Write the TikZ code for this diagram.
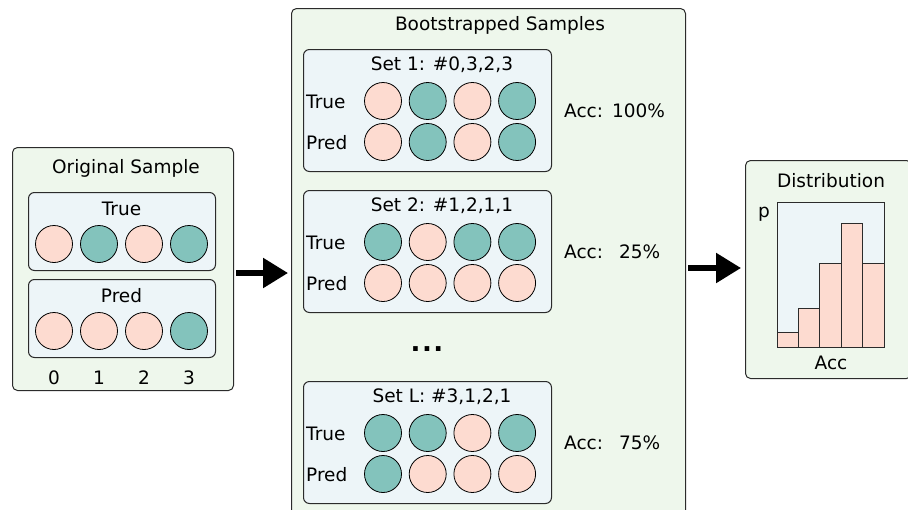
\documentclass[tikz,border=0pt]{standalone}
\usepackage{fontspec}
\setmainfont{DejaVu Sans}
\usetikzlibrary{arrows.meta,calc}

\definecolor{panelgreen}{HTML}{EEF7EC}
\definecolor{panelblue}{HTML}{EDF5F8}
\definecolor{pinkball}{HTML}{FDDBD0}
\definecolor{tealball}{HTML}{83C3BC}
\definecolor{edgegray}{HTML}{2B2B2B}

\tikzset{
  outerbox/.style={draw=edgegray, fill=panelgreen, rounded corners=5, line width=1},
  innerbox/.style={draw=edgegray, fill=panelblue, rounded corners=6, line width=1},
  ball/.style={circle, draw=black, line width=0.8, minimum size=37, inner sep=0},
  P/.style={ball, fill=pinkball},
  T/.style={ball, fill=tealball},
  lbl/.style={font=\fontsize{18.5}{21}\selectfont, inner sep=0},
  bigarrow/.style={line width=5.5, -{Triangle[length=25, width=29]}},
}

% One bootstrapped set: #1 name, #2 top y, #3 title, #4/#5 true/pred styles, #6 accuracy text
\newcommand{\bootset}[6]{%
  \node[innerbox, minimum width=248, minimum height=122, anchor=north west] (#1) at (303,#2) {};
  \node[lbl] (#1title) at (442,#2+16) {#3};
  \node[lbl, anchor=west] (#1tl) at (306,#2+53) {True};
  \node[lbl, anchor=west] (#1pl) at (306,#2+94) {Pred};
  \foreach \s [count=\i] in {#4} {
    \node[\s] (#1t\i) at (383+44.7*\i-44.7,#2+52) {};
  }
  \foreach \s [count=\i] in {#5} {
    \node[\s] (#1p\i) at (383+44.7*\i-44.7,#2+93) {};
  }
  \node[lbl, anchor=west] (#1acc) at (564,#2+62) {#6};
}

\begin{document}
\begin{tikzpicture}[x=1pt, y=-1pt]
\useasboundingbox (0,0) rectangle (908,509);
\begin{scope}
\clip (0,0) rectangle (908,509);

% Original sample
\node[outerbox, minimum width=221, minimum height=243, anchor=north west] (orig) at (12,147) {};
\node[lbl] (origtitle) at (126,168) {Original Sample};
\node[innerbox, minimum width=187, minimum height=78, anchor=north west] (otrue) at (28,192) {};
\node[lbl] (otruel) at (121.5,209) {True};
\node[innerbox, minimum width=187, minimum height=78, anchor=north west] (opred) at (28,279) {};
\node[lbl] (opredl) at (121.5,296) {Pred};
\foreach \s [count=\i] in {P,T,P,T} {
  \node[\s] (ot\i) at (54+45*\i-45,244) {};
}
\foreach \s [count=\i] in {P,P,P,T} {
  \node[\s] (op\i) at (54+45*\i-45,331) {};
  \node[lbl] (idx\i) at (54+45*\i-45,378) {\the\numexpr\i-1\relax};
}

% Bootstrapped samples
\node[outerbox, minimum width=394, minimum height=530, anchor=north west] (boot) at (291,8) {};
\node[lbl] (boottitle) at (500,25) {Bootstrapped Samples};
\bootset{sa}{49}{Set 1: \#0,3,2,3}{P,T,P,T}{P,T,P,T}{Acc:\hspace{9pt}100\%}
\bootset{sb}{190}{Set 2: \#1,2,1,1}{T,P,T,T}{P,P,P,P}{Acc:\hspace{16pt}25\%}
\bootset{sc}{381}{Set L: \#3,1,2,1}{T,T,P,T}{T,P,P,P}{Acc:\hspace{16pt}75\%}
\node[font=\fontsize{26}{26}\selectfont\bfseries, inner sep=0] (dots) at (427,349) {.\hspace{1.5pt}.\hspace{1.5pt}.};

% Distribution
\node[outerbox, minimum width=166, minimum height=218, anchor=north west] (dist) at (745,160) {};
\node[lbl] (disttitle) at (831,181) {Distribution};
\node[draw=edgegray, fill=panelblue, line width=1, minimum width=107, minimum height=145, anchor=north west, inner sep=0] (plot) at (777,202) {};
\foreach \top [count=\i] in {332,308,263,223,263} {
  \draw[fill=pinkball, draw=edgegray, line width=1] (777+21.4*\i-21.4,347) rectangle (777+21.4*\i,\top);
}
\node[lbl] (plabel) at (764,214) {p};
\node[lbl] (acclabel) at (831,363) {Acc};

% Arrows between the panels
\coordinate (a1s) at (236,273);
\coordinate (a1e) at (288,273);
\coordinate (a2s) at (688,268);
\coordinate (a2e) at (741,268);
\draw[bigarrow] (a1s) -- (a1e);
\draw[bigarrow] (a2s) -- (a2e);
\end{scope}
\end{tikzpicture}
\end{document}
